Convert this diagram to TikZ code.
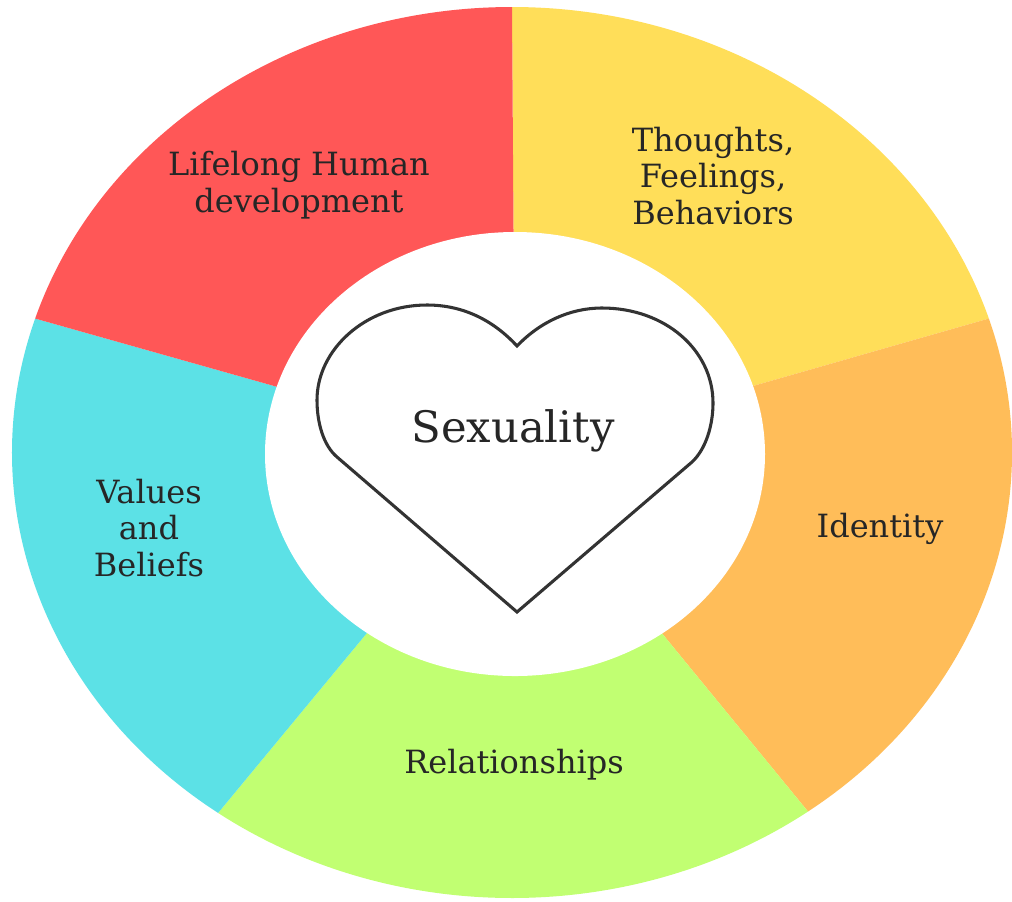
\documentclass[tikz,border=0pt]{standalone}
\usepackage{fontspec}
\setmainfont{DejaVu Serif}
\definecolor{cred}{HTML}{FF5757}
\definecolor{cyel}{HTML}{FFDE59}
\definecolor{cora}{HTML}{FFBD59}
\definecolor{cgrn}{HTML}{C1FF72}
\definecolor{ccya}{HTML}{5CE1E6}
\begin{document}
\begin{tikzpicture}[x=0.75pt,y=-0.75pt,
  lab/.style={align=center,font=\fontsize{24}{27.5}\selectfont,text=black!85}]
\useasboundingbox (0,0) rectangle (1012,901);
\fill[white] (0,0) rectangle (1012,901);
% outer ellipse c=(512,452.5) rx=500 ry=445.5; inner c=(515,454) rx=250 ry=222
\def\sect#1#2#3{\fill[#1] (512,452.5) ++(#2:500 and -445.5) arc[start angle=#2,end angle=#3,x radius=500,y radius=-445.5] -- (515,454) -- cycle;}
\sect{cyel}{90}{17.5}
\sect{cora}{17.5}{-53.7}
\sect{cgrn}{-53.7}{-126}
\sect{ccya}{-126}{-197.5}
\sect{cred}{-197.5}{-270}
\fill[white] (515,454) ellipse[x radius=250,y radius=222];
\draw[line width=2.3pt,black!80,line join=miter]
  (517,346) .. controls (495,322) and (465,305) .. (427,305)
  .. controls (365,305) and (317,350) .. (317,400)
  .. controls (317,422) and (323,445) .. (337,457)
  -- (517,612) -- (692,462)
  .. controls (706,449) and (713,425) .. (713,403)
  .. controls (713,350) and (665,308) .. (602,308)
  .. controls (570,308) and (540,322) .. (517,346) -- cycle;
\node[lab,font=\fontsize{32.5}{36}\selectfont] (s) at (513,431) {Sexuality};
\node[lab] (a) at (299,185) {Lifelong Human\\development};
\node[lab] (b) at (713,176) {Thoughts,\\Feelings,\\Behaviors};
\node[lab] (c) at (880,529) {Identity};
\node[lab] (d) at (514,765) {Relationships};
\node[lab] (e) at (149,528) {Values\\and\\Beliefs};
\end{tikzpicture}
\end{document}
